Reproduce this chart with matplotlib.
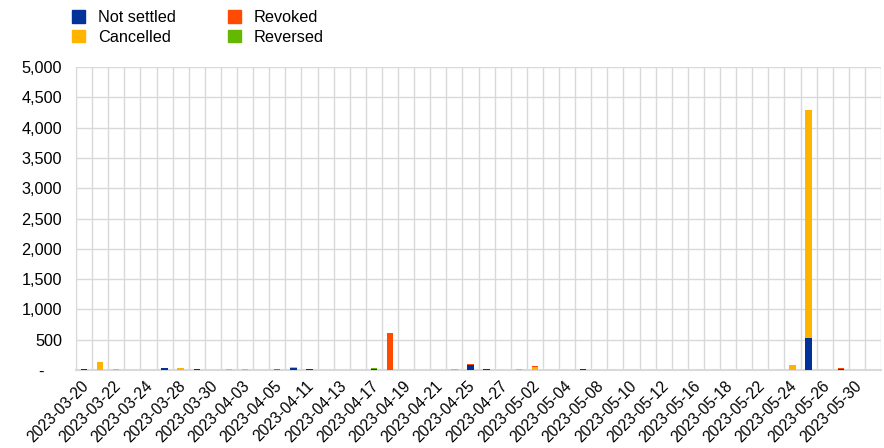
import matplotlib
matplotlib.use("Agg")
import matplotlib.pyplot as plt
import matplotlib.transforms as mtransforms
from matplotlib.patches import Patch
import numpy as np

plt.rcParams["font.family"] = ["Liberation Sans", "DejaVu Sans"]

dates = [
    "2023-03-20", "2023-03-21", "2023-03-22", "2023-03-23", "2023-03-24",
    "2023-03-27", "2023-03-28", "2023-03-29", "2023-03-30", "2023-03-31",
    "2023-04-03", "2023-04-04", "2023-04-05", "2023-04-06", "2023-04-11",
    "2023-04-12", "2023-04-13", "2023-04-14", "2023-04-17", "2023-04-18",
    "2023-04-19", "2023-04-20", "2023-04-21", "2023-04-24", "2023-04-25",
    "2023-04-26", "2023-04-27", "2023-04-28", "2023-05-02", "2023-05-03",
    "2023-05-04", "2023-05-05", "2023-05-08", "2023-05-09", "2023-05-10",
    "2023-05-11", "2023-05-12", "2023-05-15", "2023-05-16", "2023-05-17",
    "2023-05-18", "2023-05-19", "2023-05-22", "2023-05-23", "2023-05-24",
    "2023-05-25", "2023-05-26", "2023-05-29", "2023-05-30", "2023-05-31",
]

not_settled = [12, 0, 0, 0, 0, 25, 0, 12, 0, 0,
               4, 0, 6, 25, 12, 0, 0, 0, 15, 0,
               0, 0, 0, 6, 90, 12, 0, 0, 0, 0,
               0, 10, 0, 0, 0, 0, 0, 0, 0, 0,
               0, 0, 0, 0, 0, 520, 0, 20, 0, 0]
cancelled = [0, 125, 15, 0, 3, 0, 30, 0, 0, 12,
             12, 3, 0, 20, 0, 0, 0, 0, 0, 0,
             0, 8, 0, 8, 0, 8, 0, 12, 55, 0,
             0, 0, 0, 6, 0, 0, 0, 0, 0, 0,
             0, 8, 5, 0, 85, 3770, 0, 0, 0, 0]
revoked = [5, 6, 3, 4, 0, 5, 0, 5, 2, 3,
           0, 5, 6, 0, 5, 0, 0, 3, 0, 615,
           3, 0, 0, 0, 8, 0, 0, 0, 3, 0,
           3, 0, 0, 0, 2, 3, 0, 3, 3, 3,
           4, 0, 0, 2, 4, 0, 0, 5, 0, 4]
reversed_ = [0, 0, 0, 0, 0, 0, 0, 0, 0, 0,
             0, 0, 0, 0, 0, 0, 0, 0, 10, 0,
             0, 0, 0, 0, 0, 0, 0, 0, 0, 0,
             0, 0, 0, 0, 0, 0, 0, 0, 0, 0,
             0, 0, 3, 0, 0, 0, 0, 0, 0, 0]

c_ns = "#003299"
c_ca = "#FFB400"
c_rv = "#FF4B00"
c_re = "#65B800"

fig = plt.figure(figsize=(8.84, 4.48), dpi=100)
ax = fig.add_axes([76 / 884, 1 - 370 / 448, 805 / 884, 303 / 448])

x = np.arange(len(dates))
w = 0.4
b1 = np.array(not_settled)
b2 = b1 + np.array(cancelled)
b3 = b2 + np.array(revoked)
ax.bar(x, not_settled, w, color=c_ns, zorder=3)
ax.bar(x, cancelled, w, bottom=b1, color=c_ca, zorder=3)
ax.bar(x, revoked, w, bottom=b2, color=c_rv, zorder=3)
ax.bar(x, reversed_, w, bottom=b3, color=c_re, zorder=3)

ax.set_xlim(-0.5, len(dates) - 0.5)
ax.set_ylim(0, 5000)
yt = np.arange(0, 5001, 500)
ax.set_yticks(yt)
ax.set_yticklabels(["-    "] + [f"{v:,}" for v in yt[1:]], fontsize=11.7)
ax.set_xticks(x[::2])
ax.set_xticklabels(dates[::2], rotation=45, ha="right", rotation_mode="anchor",
                   fontsize=11.2)
ax.set_xticks(np.arange(-0.5, len(dates), 1), minor=True)
ax.tick_params(axis="both", which="both", length=0)
ax.tick_params(axis="y", pad=10)
ax.tick_params(axis="x", pad=6)

# nudge the rotated date labels a little to the left
shift = mtransforms.ScaledTranslation(-3 / 100, 0, fig.dpi_scale_trans)
for lbl in ax.get_xticklabels():
    lbl.set_transform(lbl.get_transform() + shift)

ax.grid(axis="y", color="#d9d9d9", lw=1, zorder=0)
ax.grid(axis="x", which="minor", color="#d9d9d9", lw=1, zorder=0)
ax.grid(axis="x", which="major", visible=False)
for s in ["top", "right"]:
    ax.spines[s].set_visible(False)
ax.spines["left"].set_color("#d9d9d9")
ax.spines["bottom"].set_color("#d9d9d9")
ax.spines["bottom"].set_linewidth(1.5)

handles = [Patch(color=c_ns), Patch(color=c_ca), Patch(color=c_rv), Patch(color=c_re)]
labels = ["Not settled", "Cancelled", "Revoked", "Reversed"]
fig.legend(handles, labels, ncol=2, loc="upper left", bbox_to_anchor=(72 / 884, 1 - 10 / 448),
           frameon=False, fontsize=11.7, handlelength=0.8, handleheight=0.8,
           handletextpad=0.8, columnspacing=3.2, labelspacing=0.3, borderpad=0,
           borderaxespad=0)

fig.savefig("out.png", dpi=100)
